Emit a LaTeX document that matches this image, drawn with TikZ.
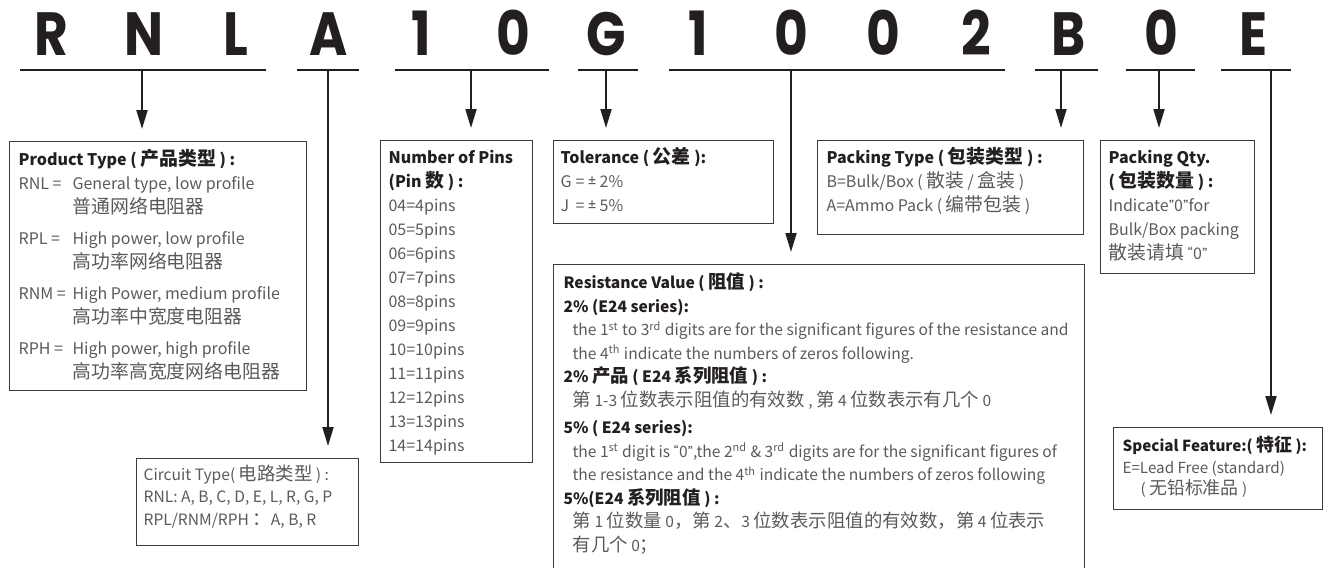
\documentclass[tikz,border=0pt]{standalone}
\usepackage{fontspec}
\setmainfont{Noto Sans CJK SC}
\newfontfamily\cjk{Noto Sans CJK SC}[Scale=1.18]
\newfontfamily\qfont{PT Sans}
\newfontfamily\codefont{Poppins}
\usetikzlibrary{
    arrows.meta,
    positioning
}
\definecolor{ink}{HTML}{231F20}
\definecolor{bodygray}{HTML}{5A5A5C}
\definecolor{framegray}{HTML}{3C3C3C}
% fixed size text block, top aligned
\newcommand{\boxtext}[3]{\parbox[t][#2][t]{#1}{\strut#3}}
\newcommand{\head}[1]{{\bfseries\color{ink}#1}}
\newcommand{\zh}[1]{{\cjk #1}}
\newcommand{\qs}[1]{{\qfont #1}}

\begin{document}
\begin{tikzpicture}[x=0.5pt, y=-0.5pt,
    codeletter/.style = {font=\codefont\bfseries\fontsize{30.5pt}{32pt}\selectfont,
                         text=ink, anchor=base, inner sep=0pt},
    codeline/.style   = {draw=ink, line width=0.9pt},
    infobox/.style    = {draw=framegray, line width=0.6pt, anchor=north west,
                         text=bodygray, inner sep=3pt,
                         font=\fontsize{8pt}{12pt}\selectfont},
    pointer/.style    = {draw=ink, line width=1pt, shorten >=6pt,
                         -{Triangle[length=9.5pt, width=5.5pt]}},
]
    \useasboundingbox (0,0) rectangle (1330,568);

    %Code letters
    \foreach \ch [count=\i from 0] in {R,N,L,A,1,0,G,1,0,0,2,B,0,E}
        \node[codeletter] (c\i) at ({51+92.5*\i},55) {\scalebox{0.85}[1]{\ch}};

    %Underlines
    \draw[codeline] (20,70)   -- (266,70);
    \draw[codeline] (297,70)  -- (359,70);
    \draw[codeline] (395,70)  -- (549,70);
    \draw[codeline] (578,70)  -- (638,70);
    \draw[codeline] (669,70)  -- (1005,70);
    \draw[codeline] (1035,70) -- (1098,70);
    \draw[codeline] (1126,70) -- (1195,70);
    \draw[codeline] (1221,70) -- (1291,70);

    \coordinate (rnl)  at (142,70);
    \coordinate (ckt)  at (328,70);
    \coordinate (pins) at (471,70);
    \coordinate (tol)  at (606,70);
    \coordinate (res)  at (791,70);
    \coordinate (pack) at (1061,70);
    \coordinate (qty)  at (1159,70);
    \coordinate (feat) at (1271,70);

    %Boxes
    \node[infobox, inner xsep=4.5pt, inner ysep=3.5pt] (product) at (9,141)
        {\boxtext{139.5pt}{117.5pt}{%
        \head{Product Type ( \zh{产品类型} ) :}\\
        \makebox[27pt][l]{RNL =}General type, low profile\\
        \hspace*{27pt}\zh{普通网络电阻器}\\[3.5pt]
        \makebox[27pt][l]{RPL =}High power, low profile\\
        \hspace*{27pt}\zh{高功率网络电阻器}\\[3.5pt]
        \makebox[27pt][l]{RNM =}High Power, medium profile\\
        \hspace*{27pt}\zh{高功率中宽度电阻器}\\[3.5pt]
        \makebox[27pt][l]{RPH =}High power, high profile\\
        \hspace*{27pt}\zh{高功率高宽度网络电阻器}}};

    \node[infobox, inner xsep=3.5pt, inner ysep=3pt,
          font=\fontsize{7.8pt}{11.25pt}\selectfont] (circuit) at (136,458)
        {\boxtext{104pt}{37.5pt}{%
        Circuit Type( \zh{电路类型} ) :\\
        RNL: A, B, C, D, E, L, R, G, P\\
        RPL/RNM/RPH \zh{：}A, B, R}};

    \node[infobox, inner xsep=4pt, inner ysep=3pt] (pinbox) at (380,140)
        {\boxtext{68pt}{155pt}{%
        \head{Number of Pins}\\
        \head{(Pin \zh{数} ) :}\\
        04=4pins\\ 05=5pins\\ 06=6pins\\ 07=7pins\\ 08=8pins\\ 09=9pins\\
        10=10pins\\ 11=11pins\\ 12=12pins\\ 13=13pins\\ 14=14pins}};

    \node[infobox, inner xsep=3.5pt, inner ysep=3pt] (tolbox) at (553,140)
        {\boxtext{103pt}{35.5pt}{%
        \head{Tolerance ( \zh{公差} ):}\\
        \makebox[7.5pt][l]{G}= \qs{±} 2\%\\
        \makebox[7.5pt][l]{J}= \qs{±} 5\%}};

    \node[infobox, inner xsep=5pt, inner ysep=3.8pt,
          font=\fontsize{7.8pt}{11.75pt}\selectfont] (resbox) at (553,264)
        {\boxtext{255.5pt}{150.4pt}{%
        \head{Resistance Value ( \zh{阻值} ) :}\\
        \head{2\% (E24 series):}\\
        \hspace*{4.5pt}the 1\textsuperscript{st} to 3\textsuperscript{rd} digits are for the significant figures of the resistance and\\
        \hspace*{4.5pt}the 4\textsuperscript{th} indicate the numbers of zeros following.\\
        \head{2\% \zh{产品} ( E24 \zh{系列阻值} ) :}\\
        \hspace*{4.5pt}\zh{第} 1-3 \zh{位数表示阻值的有效数} , \zh{第} 4 \zh{位数表示有几个} 0\\[2pt]
        \head{5\% ( E24 series):}\\
        \hspace*{4.5pt}the 1\textsuperscript{st} digit is \qs{“}0\qs{”},the 2\textsuperscript{nd} \& 3\textsuperscript{rd} digits are for the significant figures of\\
        \hspace*{4.5pt}the resistance and the 4\textsuperscript{th} indicate the numbers of zeros following\\
        \head{5\%(E24 \zh{系列阻值} ) :}\\
        \hspace*{4.5pt}\zh{第} 1 \zh{位数量} 0\zh{，第} 2\zh{、}3 \zh{位数表示阻值的有效数，第} 4 \zh{位表示}\\
        \hspace*{4.5pt}\zh{有几个} 0\zh{；}}};

    \node[infobox, inner xsep=4.5pt, inner ysep=3pt] (packbox) at (817,140)
        {\boxtext{124pt}{41pt}{%
        \head{Packing Type ( \zh{包装类型} ) :}\\
        B=Bulk/Box ( \zh{散装} / \zh{盒装} )\\
        A=Ammo Pack ( \zh{编带包装} )}};

    \node[infobox, inner xsep=4pt, inner ysep=3pt] (qtybox) at (1100,140)
        {\boxtext{69pt}{60.5pt}{%
        \head{Packing Qty.}\\
        \head{( \zh{包装数量} ) :}\\
        Indicate\qs{”}0\qs{”}for\\
        Bulk/Box packing\\
        \zh{散装请填} \qs{“}0\qs{”}}};

    \node[infobox, inner xsep=4.5pt, inner ysep=4.5pt,
          font=\fontsize{7.6pt}{10.75pt}\selectfont] (featbox) at (1113,427)
        {\boxtext{95.5pt}{32pt}{%
        \head{Special Feature:( \zh{特征} ):}\\
        E=Lead Free (standard)\\
        \hspace*{9pt}( \zh{无铅标准品} )}};

    %Arrows
    \draw[pointer] (rnl)  -- (rnl |- product.north);
    \draw[pointer] (ckt)  -- (ckt |- circuit.north);
    \draw[pointer] (pins) -- (pins |- pinbox.north);
    \draw[pointer] (tol)  -- (tol |- tolbox.north);
    \draw[pointer] (res)  -- (res |- resbox.north);
    \draw[pointer] (pack) -- (pack |- packbox.north);
    \draw[pointer] (qty)  -- (qty |- qtybox.north);
    \draw[pointer] (feat) -- (feat |- featbox.north);
\end{tikzpicture}
\end{document}
